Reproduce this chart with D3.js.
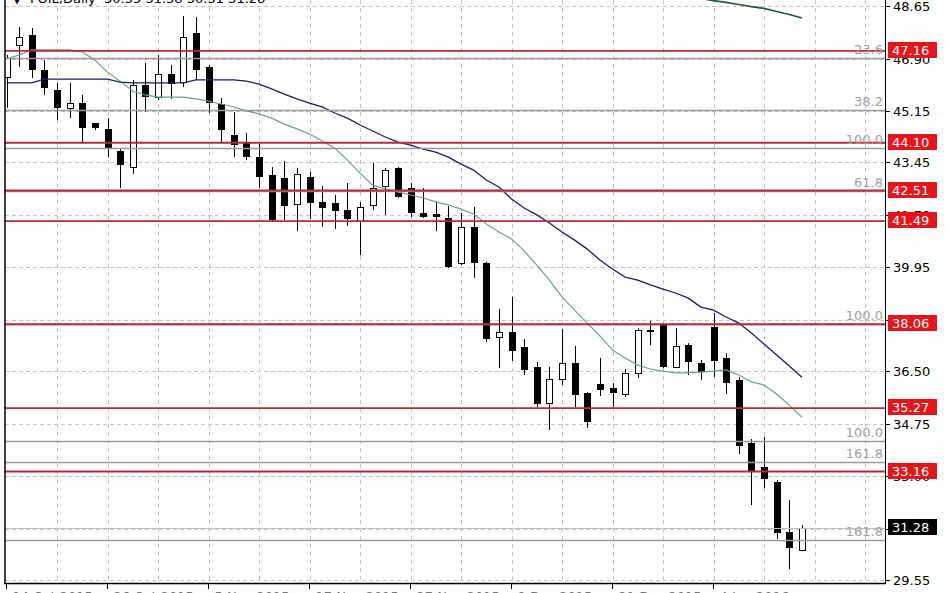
<!DOCTYPE html>
<html><head><meta charset="utf-8">
<script src="https://cdn.jsdelivr.net/npm/d3@7"></script>
<style>
html,body{margin:0;padding:0;background:#fff;overflow:hidden}
svg text{font-family:"DejaVu Sans",sans-serif;font-size:13px}
</style></head>
<body>
<svg id="c" width="948" height="593"></svg>
<script>
// ---- data ----
const headerText = "FOIL,Daily  30.55 31.38 30.51 31.28";
const opens  = [46.29,47.35,47.69,46.52,45.85,45.26,45.42,44.76,44.56,43.82,43.29,46.02,45.62,46.39,46.12,47.75,46.62,45.39,44.36,44.12,43.62,43.03,42.93,42.06,42.96,42.13,42.09,41.86,41.49,42.03,42.66,43.26,42.59,41.76,41.73,41.60,40.10,41.30,40.10,37.63,37.80,37.30,36.64,35.44,36.24,36.77,35.77,36.07,35.94,35.74,36.44,37.86,38.07,36.64,37.37,36.77,37.97,36.94,36.20,34.11,33.31,32.81,31.14,30.55];
const highs  = [47.02,47.95,47.92,46.85,46.09,46.09,45.69,44.76,44.92,43.92,46.19,46.75,47.02,46.69,48.32,48.28,46.69,45.59,45.12,44.42,44.09,43.29,43.49,43.26,43.13,42.66,42.36,42.76,42.13,43.43,43.26,43.29,42.76,42.59,42.13,41.99,41.76,41.96,40.15,38.57,38.97,37.57,36.80,36.64,37.90,37.34,35.80,36.94,36.10,36.57,37.93,38.17,38.10,37.93,37.43,36.87,38.43,37.10,36.30,34.24,34.31,32.88,32.21,31.38];
const lows   = [45.26,46.62,46.25,45.69,44.86,44.92,44.12,44.52,43.62,42.59,43.06,45.12,45.52,45.56,45.95,46.19,45.09,44.12,43.62,43.52,42.59,41.46,41.53,41.16,41.56,41.30,41.23,41.33,40.36,41.86,41.70,42.26,41.63,41.60,41.16,39.93,40.03,39.60,37.47,36.60,36.84,36.37,35.30,34.54,36.04,35.30,34.61,35.67,35.30,35.64,36.27,37.37,36.60,36.60,36.37,36.20,36.30,35.74,33.74,32.04,32.61,30.91,29.91,30.51];
const closes = [46.92,47.62,46.52,45.92,45.26,45.42,44.59,44.59,43.89,43.36,46.02,45.62,46.39,46.05,47.62,46.52,45.42,44.52,44.02,43.62,42.96,41.53,41.99,43.06,42.09,41.93,41.83,41.56,41.96,42.59,43.19,42.29,41.76,41.63,41.63,39.96,41.30,40.10,37.57,37.80,37.17,36.54,35.40,36.24,36.77,35.70,34.81,35.87,35.77,36.44,37.87,37.82,36.64,37.34,36.80,36.47,36.84,36.10,34.01,33.18,32.91,31.11,30.61,31.28];
const maSlow = [46.09,46.09,46.09,46.22,46.22,46.22,46.22,46.22,46.22,46.12,46.09,46.09,46.09,46.09,46.09,46.19,46.19,46.19,46.19,46.15,46.05,45.89,45.72,45.56,45.42,45.29,45.09,44.92,44.69,44.49,44.29,44.12,44.02,43.89,43.79,43.62,43.39,43.19,42.86,42.63,42.23,41.93,41.70,41.43,41.13,40.86,40.56,40.20,39.90,39.63,39.53,39.37,39.23,39.10,38.93,38.63,38.53,38.30,38.10,37.77,37.40,37.04,36.67,36.30];
const maFast = [46.89,47.02,47.19,47.19,47.19,47.19,47.12,46.85,46.45,46.15,45.82,45.69,45.62,45.62,45.62,45.56,45.49,45.39,45.29,45.16,45.06,44.92,44.72,44.56,44.39,44.16,43.92,43.52,43.09,42.69,42.56,42.46,42.36,42.26,42.13,42.03,41.89,41.73,41.40,41.13,40.90,40.50,40.03,39.53,38.97,38.53,38.10,37.67,37.20,36.94,36.70,36.57,36.50,36.44,36.44,36.47,36.50,36.54,36.37,36.14,36.04,35.74,35.37,34.97];
const maLong = [null,null,null,null,null,null,null,null,null,null,null,null,null,null,null,null,null,null,null,null,null,null,null,null,null,null,null,null,null,null,null,null,null,null,null,null,null,null,null,null,null,null,null,null,null,null,null,null,null,null,null,null,null,null,null,48.90,48.83,48.77,48.70,48.63,48.57,48.47,48.37,48.25];
const yTicks = [48.65,46.90,45.15,43.45,41.70,39.95,38.20,36.50,34.75,33.00,31.25,29.55];
const redLevels = [47.16,44.10,42.51,41.49,38.06,35.27,33.16];
const fibValues = [46.92,45.19,43.92,42.51,38.06,34.17,33.48,30.88];
const fibLabels = ["23.6","38.2","100.0","61.8","100.0","100.0","161.8","161.8"];
const lastPrice = 31.28;
const dateTickIdx = [0,8,16,24,32,40,48,56];
const dateLabels = ["14 Oct 2015","26 Oct 2015","5 Nov 2015","17 Nov 2015","27 Nov 2015","9 Dec 2015","21 Dec 2015","4 Jan 2016"];

// ---- layout ----
const L = 5, R = 885, T = 0, B = 583;
const svg = d3.select("#c");
const y = d3.scaleLinear().domain([29.55, 48.65]).range([580, 6]);
const x = d3.scaleLinear().domain([0, 63]).range([6.5, 801.9]);
const snap = v => Math.round(v) + 0.5;

svg.append("rect").attr("width",948).attr("height",593).attr("fill","#fff");
svg.append("defs").append("clipPath").attr("id","plot")
  .append("rect").attr("x",L).attr("y",T).attr("width",R-L).attr("height",B-T);

const plot = svg.append("g").attr("clip-path","url(#plot)");

// grid
const gridX = d3.range(4, 72, 4);
plot.selectAll(".gx").data(gridX).join("line")
  .attr("x1",d=>snap(x(d))).attr("x2",d=>snap(x(d))).attr("y1",T).attr("y2",B)
  .attr("stroke","#c4c4c4").attr("stroke-dasharray","4,4");
plot.selectAll(".gy").data(yTicks).join("line")
  .attr("x1",L).attr("x2",R).attr("y1",d=>snap(y(d))).attr("y2",d=>snap(y(d)))
  .attr("stroke","#c4c4c4").attr("stroke-dasharray","4,3");

// candles
const idx = d3.range(opens.length);
plot.selectAll(".wick").data(idx).join("line")
  .attr("x1",i=>snap(x(i))).attr("x2",i=>snap(x(i)))
  .attr("y1",i=>y(highs[i])).attr("y2",i=>y(lows[i]))
  .attr("stroke","#000").attr("stroke-width",1);
plot.selectAll(".body").data(idx).join("rect")
  .each(function(i){
    const up = closes[i] >= opens[i];
    const top = y(Math.max(opens[i],closes[i])), bot = y(Math.min(opens[i],closes[i]));
    const cx = Math.round(x(i));
    const s = d3.select(this);
    if (up) {
      s.attr("x",cx-2.5).attr("width",6).attr("y",Math.round(top)+0.5)
       .attr("height",Math.max(1,Math.round(bot)-Math.round(top)))
       .attr("fill","#fff").attr("stroke","#000").attr("stroke-width",1);
    } else {
      s.attr("x",cx-3).attr("width",7).attr("y",Math.round(top))
       .attr("height",Math.max(2,Math.round(bot)-Math.round(top)))
       .attr("fill","#000");
    }
  });

// moving averages
const mkLine = arr => d3.line().defined(d=>d!=null).x((d,i)=>x(i)).y(d=>y(d))(arr);
plot.append("path").attr("d",mkLine(maFast)).attr("fill","none").attr("stroke","#6f9f84").attr("stroke-width",1.2);
plot.append("path").attr("d",mkLine(maSlow)).attr("fill","none").attr("stroke","#1d1d66").attr("stroke-width",1.3);
plot.append("path").attr("d",mkLine(maLong)).attr("fill","none").attr("stroke","#2b5436").attr("stroke-width",1.6);

// fib / price lines
plot.selectAll(".fib").data(fibValues).join("line")
  .attr("x1",L).attr("x2",R).attr("y1",d=>snap(y(d))).attr("y2",d=>snap(y(d)))
  .attr("stroke","#9a9a9a").attr("stroke-width",1.4);
plot.append("line").attr("x1",L).attr("x2",R).attr("y1",snap(y(lastPrice))).attr("y2",snap(y(lastPrice)))
  .attr("stroke","#c2c2c2").attr("stroke-width",1.2);
plot.selectAll(".red").data(redLevels).join("line")
  .attr("x1",L).attr("x2",R).attr("y1",d=>y(d)).attr("y2",d=>y(d))
  .attr("stroke","#b72a3e").attr("stroke-width",1.8);

// fib labels
plot.selectAll(".fl").data(fibValues).join("text")
  .attr("x",883).attr("y",d=>y(d)-4).attr("text-anchor","end")
  .attr("fill","#a0a0a0").text((d,i)=>fibLabels[i]);

// header
svg.append("text").attr("x",12).attr("y",3).attr("font-size",9).attr("fill","#000").text("▼");
svg.append("text").attr("x",30).attr("y",3).attr("fill","#000").attr("xml:space","preserve").text(headerText);

// axes borders
svg.append("line").attr("x1",5).attr("x2",5).attr("y1",0).attr("y2",B).attr("stroke","#000").attr("stroke-width",1.5);
svg.append("line").attr("x1",R+0.5).attr("x2",R+0.5).attr("y1",0).attr("y2",B+0.5).attr("stroke","#000");
svg.append("line").attr("x1",4).attr("x2",R+1).attr("y1",B+0.5).attr("y2",B+0.5).attr("stroke","#000").attr("stroke-width",1.5);

// y axis ticks & labels
svg.selectAll(".yt").data(yTicks).join("line")
  .attr("x1",R).attr("x2",R+5).attr("y1",d=>snap(y(d))).attr("y2",d=>snap(y(d))).attr("stroke","#000");
svg.selectAll(".yl").data(yTicks).join("text")
  .attr("x",893).attr("y",d=>y(d)+5).attr("fill","#000").text(d=>d.toFixed(2));

// price boxes
const boxes = redLevels.map(v=>({v,fill:"#e8141c"})).concat([{v:lastPrice,fill:"#000"}]);
svg.selectAll(".bx").data(boxes).join("rect")
  .attr("x",888).attr("width",49).attr("y",d=>Math.round(y(d.v))-9).attr("height",16)
  .attr("fill",d=>d.fill);
svg.selectAll(".bt").data(boxes).join("text")
  .attr("x",892).attr("y",d=>Math.round(y(d.v))+4).attr("fill","#fff").text(d=>d.v.toFixed(2));

// x axis ticks & labels
svg.selectAll(".xt").data(dateTickIdx).join("line")
  .attr("x1",d=>snap(x(d))-1).attr("x2",d=>snap(x(d))-1).attr("y1",B).attr("y2",B+6).attr("stroke","#000");
svg.selectAll(".xl").data(dateTickIdx).join("text")
  .attr("x",d=>x(d)+6).attr("y",601).attr("fill","#777").text((d,i)=>dateLabels[i]);
</script>
</body></html>
